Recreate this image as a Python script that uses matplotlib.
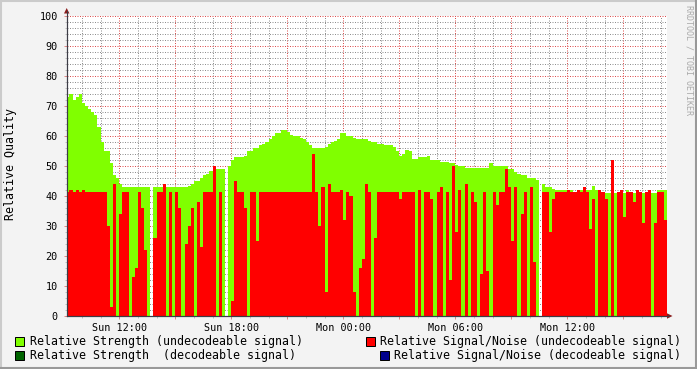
import matplotlib
matplotlib.use('Agg')
import matplotlib.pyplot as plt
import matplotlib.dates as mdates
from matplotlib.patches import Rectangle, Polygon
from matplotlib.lines import Line2D
from matplotlib.ticker import MultipleLocator, FuncFormatter
import datetime as dt

W, H = 697, 369

# ---------------- data ----------------
START = dt.datetime(2023, 1, 1, 9, 10)   # a Sunday
STEP_MIN = 10

strength_undecodeable = [
    73, 74, 72, 73, 74, 71, 70, 69, 68, 67,
    63, 58, 55, 55, 51, 47, 46, 44, 43, 43,
    43, 43, 43, 43, 43, 43, 43, 0, 43, 43,
    43, 43, 43, 43, 43, 43, 43, 43, 43, 43.5,
    44, 45, 45, 46, 47, 47.5, 48.5, 49, 49, 49,
    49, 0, 50, 52, 53, 53, 53, 53.5, 55, 55,
    56, 56, 57, 57.5, 58, 59, 60, 61, 61, 62,
    62, 61.5, 60.5, 60, 60, 59.5, 59, 58, 57, 56,
    56, 56, 56, 56.5, 57.5, 58, 58.5, 59, 61, 61,
    60, 60, 59.5, 59, 59, 59, 59, 58.5, 58, 58,
    57.5, 57.5, 57, 57, 57, 56.5, 55, 53.5, 54, 55.5,
    55, 52.5, 52.5, 53, 53, 53, 53.5, 52, 52, 52,
    51.5, 51.5, 51.5, 51, 51, 50.5, 50, 50, 49.5, 49.5,
    49.5, 49.5, 49.5, 49.5, 49.5, 49.5, 51, 50, 50, 50,
    50, 50, 49, 49, 48, 47.5, 47, 47, 46, 46,
    46, 45.5, 0, 44, 43, 43, 42.5, 42, 42, 42,
    42, 41, 42, 41, 42, 42, 41, 42, 42, 43.5,
    42, 41, 41, 41, 41, 42, 41, 41, 41, 41,
    42, 41, 41, 41, 41, 41, 41, 42, 41, 41,
    42, 42, 42,
]

snr_undecodeable = [
    41.5, 42, 41.5, 42, 41.5, 42, 41.5, 41.5, 41.5, 41.5,
    41.5, 41.5, 41.5, 30, 3, 44, 0, 34, 41.5, 41.5,
    0, 13, 16, 41.5, 36, 22, 0, 0, 26, 41.5,
    41.5, 44, 0, 41.5, 0, 41.5, 36, 0, 24, 30,
    36, 0, 38, 23, 41.5, 41.5, 41.5, 50, 0, 41.5,
    0, 0, 0, 5, 45, 41.5, 41.5, 36, 0, 41.5,
    41.5, 25, 41.5, 41.5, 41.5, 41.5, 41.5, 41.5, 41.5, 41.5,
    41.5, 41.5, 41.5, 41.5, 41.5, 41.5, 41.5, 41.5, 41.5, 54,
    41.5, 30, 43, 8, 44, 41.5, 41.5, 41.5, 42, 32,
    41.5, 40, 8, 0, 16, 19, 44, 41.5, 0, 26,
    41.5, 41.5, 41.5, 41.5, 41.5, 41.5, 41.5, 39, 41.5, 41.5,
    41.5, 41.5, 0, 42, 0, 41.5, 41.5, 39, 0, 41.5,
    43, 0, 41.5, 12, 50, 28, 42, 0, 44, 0,
    41.5, 38, 0, 14, 41.5, 15, 0, 41.5, 37, 41.5,
    41.5, 49, 43, 25, 43, 0, 34, 41.5, 0, 43,
    18, 0, 0, 41.5, 41.5, 28, 39, 41.5, 41.5, 41.5,
    41.5, 42, 41.5, 41.5, 42, 41.5, 43, 41.5, 29, 39,
    0, 42, 41.5, 39, 0, 52, 0, 41.5, 42, 33,
    41.5, 41.5, 38, 42, 41.5, 31, 41.5, 42, 0, 31,
    41.5, 41.5, 32,
]

legend_labels = [
    "Relative Strength (undecodeable signal)",
    "Relative Signal/Noise (undecodeable signal)",
    "Relative Strength  (decodeable signal)",
    "Relative Signal/Noise (decodeable signal)",
]
legend_colors = ['#80ff00', '#ff0000', '#006400', '#00008b']
y_label = "Relative Quality"
watermark = "RRDTOOL / TOBI OETIKER"

# ---------------- figure ----------------
plt.rcParams['font.family'] = ['DejaVu Sans Mono']
plt.rcParams['lines.scale_dashes'] = True

def fx(x):
    return x / W

def fy(y):
    return 1 - y / H

fig = plt.figure(figsize=(W / 100, H / 100), dpi=100, facecolor='#f3f3f3')
ax = fig.add_axes([66.7 / W, 53 / H, 600 / W, 300 / H])
ax.set_facecolor('white')

n = len(strength_undecodeable)
edges = mdates.date2num([START + dt.timedelta(minutes=STEP_MIN * i) for i in range(n + 1)])

ax.stairs(strength_undecodeable, edges, fill=True, color='#80ff00', baseline=0,
          zorder=1, lw=0)
ax.stairs(snr_undecodeable, edges, fill=True, color='#ff0000', baseline=0,
          zorder=1.1, lw=0)

ax.set_xlim(mdates.date2num(dt.datetime(2023, 1, 1, 9, 11)),
            mdates.date2num(dt.datetime(2023, 1, 2, 17, 19, 35)))
ax.set_ylim(0, 100)

ax.xaxis.set_major_locator(mdates.HourLocator(byhour=range(0, 24, 3)))
ax.xaxis.set_minor_locator(mdates.HourLocator())

def xfmt(v, pos):
    d = mdates.num2date(v)
    return d.strftime('%a %H:%M') if d.hour % 6 == 0 else ''

ax.xaxis.set_major_formatter(FuncFormatter(xfmt))
ax.yaxis.set_major_locator(MultipleLocator(10))
ax.yaxis.set_minor_locator(MultipleLocator(2))

ax.set_axisbelow(True)
ax.grid(which='minor', color=(0.56, 0.56, 0.56, 0.35), linestyle=(0, (1, 1.5)), lw=0.72)
ax.grid(which='major', color=(0.87, 0.31, 0.31, 0.45), linestyle=(0, (1, 1.5)), lw=0.72)

ax.tick_params(axis='both', which='major', length=2, width=0.72,
               color='#e08a8a', labelsize=7.3)
ax.tick_params(axis='both', which='minor', length=1.5, width=0.72, color='#c0c0c0')
ax.tick_params(axis='x', which='major', pad=3)
ax.tick_params(axis='y', which='major', pad=4.5)

for s in ['top', 'right']:
    ax.spines[s].set_visible(False)
for s in ['left', 'bottom']:
    ax.spines[s].set_color('#3c3c46')
    ax.spines[s].set_linewidth(0.8)
    ax.spines[s].set_zorder(3)

# axis extensions and arrows
fig.add_artist(Line2D([fx(66.7), fx(66.7)], [fy(316), fy(11)], color='#3c3c46', lw=0.8))
fig.add_artist(Line2D([fx(66.7), fx(669)], [fy(316), fy(316)], color='#3c3c46', lw=0.8))
fig.add_artist(Polygon([(fx(64), fy(13.5)), (fx(69.4), fy(13.5)), (fx(66.7), fy(8))],
                       closed=True, color='#8b1c1c', lw=0))
fig.add_artist(Polygon([(fx(667), fy(313.3)), (fx(667), fy(318.7)), (fx(672.5), fy(316))],
                       closed=True, color='#8b1c1c', lw=0))

# y label
fig.text(fx(11), fy(164), y_label, rotation=90, ha='center', va='center', fontsize=8.4)

# watermark
fig.text(fx(688.5), fy(60), watermark, rotation=270, ha='center', va='center',
         fontsize=6.0, color='#aaaaaa')

# legend
legend_pos = [(15, 341.5, 30), (366, 341.5, 380), (15, 355, 30), (380, 355, 394)]
for (sx, cy, tx), lab, col in zip(legend_pos, legend_labels, legend_colors):
    fig.add_artist(Rectangle((fx(sx), fy(cy + 4.5)), 9 / W, 9 / H, facecolor=col,
                             edgecolor='black', lw=0.72))
    fig.text(fx(tx), fy(cy), lab, ha='left', va='center', fontsize=8.4)

# frame shading
fig.add_artist(Line2D([0, 1], [fy(0.8), fy(0.8)], color='#cbcbcb', lw=1.5))
fig.add_artist(Line2D([fx(0.8), fx(0.8)], [0, 1], color='#cbcbcb', lw=1.5))
fig.add_artist(Line2D([0, 1], [fy(368.2), fy(368.2)], color='#999999', lw=1.5))
fig.add_artist(Line2D([fx(696.2), fx(696.2)], [0, 1], color='#999999', lw=1.5))

fig.savefig('out.png', dpi=100, facecolor=fig.get_facecolor())
